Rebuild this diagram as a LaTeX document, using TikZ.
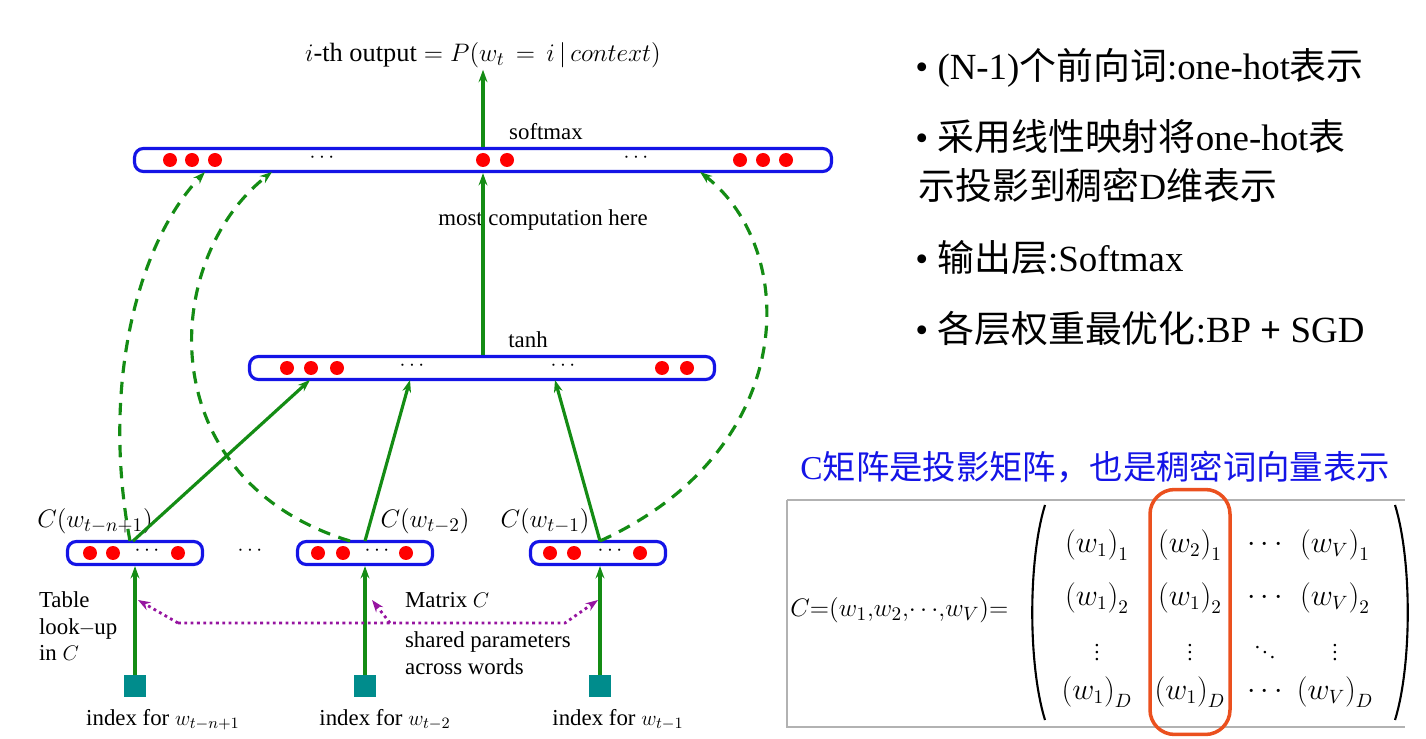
\documentclass[tikz,border=0pt]{standalone}
\usepackage{fontspec}
\setmainfont{Liberation Serif}
\newfontfamily\cjk{Noto Sans CJK SC}
\usetikzlibrary{arrows.meta}
\definecolor{gr}{RGB}{20,140,20}
\definecolor{tl}{RGB}{0,140,140}
\definecolor{pu}{RGB}{150,20,160}
\definecolor{bl}{RGB}{20,20,230}
\definecolor{orr}{RGB}{235,80,30}
\begin{document}
\begin{tikzpicture}[x=0.02cm,y=-0.02cm,
 bar/.style={draw=bl,line width=1.8pt,rounded corners=5pt,fill=white,inner sep=0pt,minimum height=0.46cm},
 dot/.style={circle,fill=red,inner sep=0pt,minimum width=0.26cm,minimum height=0.28cm},
 sq/.style={fill=tl,inner sep=0pt,minimum size=0.44cm},
 g/.style={draw=gr,line width=1.8pt,-{Stealth[length=7pt,width=5pt]}},
 gd/.style={g,dash pattern=on 7pt off 5pt},
 pd/.style={draw=pu,line width=1.6pt,dotted,-{Stealth[length=7pt,width=5pt]}},
 lab/.style={font=\fontsize{13}{15}\selectfont,inner sep=1pt},
 bul/.style={font=\fontsize{21}{25}\selectfont,anchor=west,inner sep=0pt},
 ent/.style={font=\fontsize{16}{19}\selectfont,inner sep=0pt},
 par/.style={draw=black,line width=1.2pt}]
\useasboundingbox (0,0) rectangle (1426,739);
% bars
\node[bar,minimum width=13.94cm] (S) at (483,160) {};
\node[bar,minimum width=9.3cm] (T) at (482,368) {};
\node[bar,minimum width=2.7cm] (B1) at (135,553) {};
\node[bar,minimum width=2.7cm] (B2) at (365,553) {};
\node[bar,minimum width=2.7cm] (B3) at (598,553) {};
\foreach \x in {170,192,215,483,507,740,763,786} \node[dot] at (\x,160) {};
\foreach \x in {322,636} \node[lab] at (\x,158) {$\cdots$};
\foreach \x in {287,311,337,662,687} \node[dot] at (\x,368) {};
\foreach \x in {412,563} \node[lab] at (\x,366) {$\cdots$};
\foreach \x in {90,113,178,318,343,406,550,574,640} \node[dot] at (\x,553) {};
\foreach \x in {147,377,610,250} \node[lab] at (\x,551) {$\cdots$};
% labels
\node[lab,font=\fontsize{15}{17}\selectfont] (out) at (483,55) {$i$-th output${}=P(w_t\,=\,i\,|\,context)$};
\node[lab] at (546,132) {softmax};
\node[lab] at (528,340) {tanh};
\node[lab,fill=white] at (543,220) {most\ computation here};
\node[lab,font=\fontsize{15}{17}\selectfont] at (95,521) {$C(w_{t-n+1})$};
\node[lab,font=\fontsize{15}{17}\selectfont] at (425,521) {$C(w_{t-2})$};
\node[lab,font=\fontsize{15}{17}\selectfont] at (545,521) {$C(w_{t-1})$};
\node[lab,align=left,anchor=north west] at (37,590) {Table\\ look\kern-.5pt{}$-$\kern-.5pt{}up\\ in $C$};
\node[lab,anchor=west] at (403,600) {Matrix $C$};
\node[lab,anchor=north west,align=left] at (403,630) {shared parameters\\across words};
% index squares
\node[sq] (I1) at (135,686) {};
\node[sq] (I2) at (365,686) {};
\node[sq] (I3) at (600,686) {};
\node[lab] at (163,720) {index for $w_{t-n+1}$};
\node[lab] at (385,720) {index for $w_{t-2}$};
\node[lab] at (618,720) {index for $w_{t-1}$};
% arrows
\draw[g] (I1) -- (B1);
\draw[g] (I2) -- (B2);
\draw[g] (I3.north) -- (600,566);
\draw[g] (S.north -| out) -- (out.south);
\draw[g] (T.north -| S) -- (S.south);
\draw[g] (133,541) -- (310,380);
\draw[g] (365,541) -- (410,380);
\draw[g] (600,541) -- (555,380);
\draw[gd] (130,541) .. controls (100,380) and (140,240) .. (205,172);
\draw[gd] (350,541) .. controls (150,480) and (160,260) .. (272,172);
\draw[gd] (600,541) .. controls (800,450) and (800,250) .. (700,172);
\draw[pd] (178,623) -- (138,600);
\draw[pd] (178,623) -- (565,623) -- (598,600);
\draw[pd] (390,623) -- (372,600);
% right bullets
\node[bul] at (915,68) {• (N-1){\cjk 个前向词}:one-hot{\cjk 表示}};
\node[bul] at (915,137) {• {\cjk 采用线性映射将}one-hot{\cjk 表}};
\node[bul] at (918,185) {{\cjk 示投影到稠密}D{\cjk 维表示}};
\node[bul] at (915,258) {• {\cjk 输出层}:Softmax};
\node[bul] at (915,328) {• {\cjk 各层权重最优化}:BP \textbf{+} SGD};
\node[bul,text=bl,font=\fontsize{19}{22}\selectfont] at (800,467) {C{\cjk 矩阵是投影矩阵，也是稠密词向量表示}};
% matrix
\draw[gray!60,line width=1.2pt] (787,500) -- (1405,500);
\draw[gray!60,line width=1.2pt] (787,500) -- (787,727) -- (1405,727);
\node[ent,anchor=west,font=\fontsize{15}{18}\selectfont] at (790,610) {$C{=}\bigl(w_1{,}w_2{,}{\cdots}{,}w_V\bigr){=}$};
\draw[par] (1045,505) .. controls (1028,560) and (1028,665) .. (1045,720);
\draw[par] (1395,505) .. controls (1412,560) and (1412,665) .. (1395,720);
\foreach \x/\a in {1097/1,1190/2,1335/V} \node[ent] at (\x,545) {$\bigl(w_{\a}\bigr)_1$};
\foreach \x/\a in {1097/1,1190/1,1335/V} \node[ent] at (\x,598) {$\bigl(w_{\a}\bigr)_2$};
\foreach \x/\a in {1097/1,1190/1,1335/V} \node[ent] at (\x,692) {$\bigl(w_{\a}\bigr)_D$};
\foreach \y in {545,598,692} \node[ent] at (1265,\y) {$\cdots$};
\foreach \x in {1097,1190,1335} \node[ent,font=\fontsize{12}{14}\selectfont] at (\x,647) {$\vdots$};
\node[ent,font=\fontsize{12}{14}\selectfont] at (1265,647) {$\ddots$};
\node[draw=orr,line width=2pt,rounded corners=14pt,minimum width=1.6cm,minimum height=4.9cm] (R) at (1190,612) {};
\end{tikzpicture}
\end{document}
